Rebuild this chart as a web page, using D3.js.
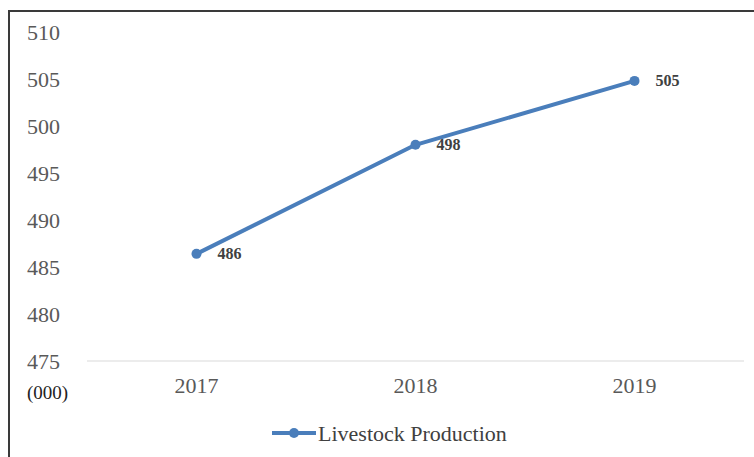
<!DOCTYPE html>
<html>
<head>
<meta charset="utf-8">
<script src="https://cdn.jsdelivr.net/npm/d3@7"></script>
<style>
  body { margin: 0; background: #fff; }
  text { font-family: "Liberation Serif", "Times New Roman", serif; }
</style>
</head>
<body>
<svg width="754" height="457"></svg>
<script>
// chart data
const years = ["2017", "2018", "2019"];
const production = [486.4, 498.0, 504.8];
const yTicks = [475, 480, 485, 490, 495, 500, 505, 510];
const seriesName = "Livestock Production";
const unitLabel = "(000)";

const svg = d3.select("svg"),
    width = +svg.attr("width"),
    height = +svg.attr("height");

const blue = "#4a7ebb";

// outer frame
svg.append("rect")
    .attr("x", 9).attr("y", 11)
    .attr("width", width + 10).attr("height", height)
    .attr("fill", "none")
    .attr("stroke", "#3a3a3a")
    .attr("stroke-width", 2);

const x = d3.scalePoint()
    .domain(years)
    .range([87, 744])
    .padding(0.5);

const y = d3.scaleLinear()
    .domain([475, 510])
    .range([361, 32]);

// baseline
svg.append("line")
    .attr("x1", 87).attr("x2", 744)
    .attr("y1", y(475)).attr("y2", y(475))
    .attr("stroke", "#d9d9d9")
    .attr("stroke-width", 1.2);

// y tick labels
svg.selectAll(".ytick")
    .data(yTicks)
    .enter().append("text")
    .attr("class", "ytick")
    .attr("x", 27)
    .attr("y", function(d) { return y(d); })
    .attr("dy", "0.35em")
    .attr("fill", "#595959")
    .style("font-size", "22px")
    .text(function(d) { return d; });

// x tick labels
svg.selectAll(".xtick")
    .data(years)
    .enter().append("text")
    .attr("class", "xtick")
    .attr("x", function(d) { return x(d); })
    .attr("y", 385)
    .attr("dy", "0.35em")
    .attr("text-anchor", "middle")
    .attr("fill", "#595959")
    .style("font-size", "22px")
    .text(function(d) { return d; });

svg.append("text")
    .attr("x", 27).attr("y", 392)
    .attr("dy", "0.35em")
    .attr("fill", "#222")
    .style("font-size", "19px")
    .text(unitLabel);

// line
const line = d3.line()
    .x(function(d, i) { return x(years[i]); })
    .y(function(d) { return y(d); });

svg.append("path")
    .datum(production)
    .attr("d", line)
    .attr("fill", "none")
    .attr("stroke", blue)
    .attr("stroke-width", 4)
    .attr("stroke-linejoin", "round");

svg.selectAll(".dot")
    .data(production)
    .enter().append("circle")
    .attr("class", "dot")
    .attr("cx", function(d, i) { return x(years[i]); })
    .attr("cy", function(d) { return y(d); })
    .attr("r", 5)
    .attr("fill", blue);

// data labels
const fmt = d3.format(".0f");
svg.selectAll(".lbl")
    .data(production)
    .enter().append("text")
    .attr("class", "lbl")
    .attr("x", function(d, i) { return x(years[i]) + 21; })
    .attr("y", function(d) { return y(d); })
    .attr("dy", "0.35em")
    .attr("fill", "#404040")
    .style("font-size", "16px")
    .style("font-weight", "bold")
    .text(function(d) { return fmt(d); });

// legend
const legend = svg.append("g").attr("transform", "translate(272,433)");
legend.append("line")
    .attr("x1", 0).attr("x2", 44)
    .attr("stroke", blue)
    .attr("stroke-width", 4);
legend.append("circle")
    .attr("cx", 22).attr("r", 5)
    .attr("fill", blue);
legend.append("text")
    .attr("x", 46)
    .attr("dy", "0.35em")
    .attr("fill", "#404040")
    .style("font-size", "22px")
    .text(seriesName);
</script>
</body>
</html>
